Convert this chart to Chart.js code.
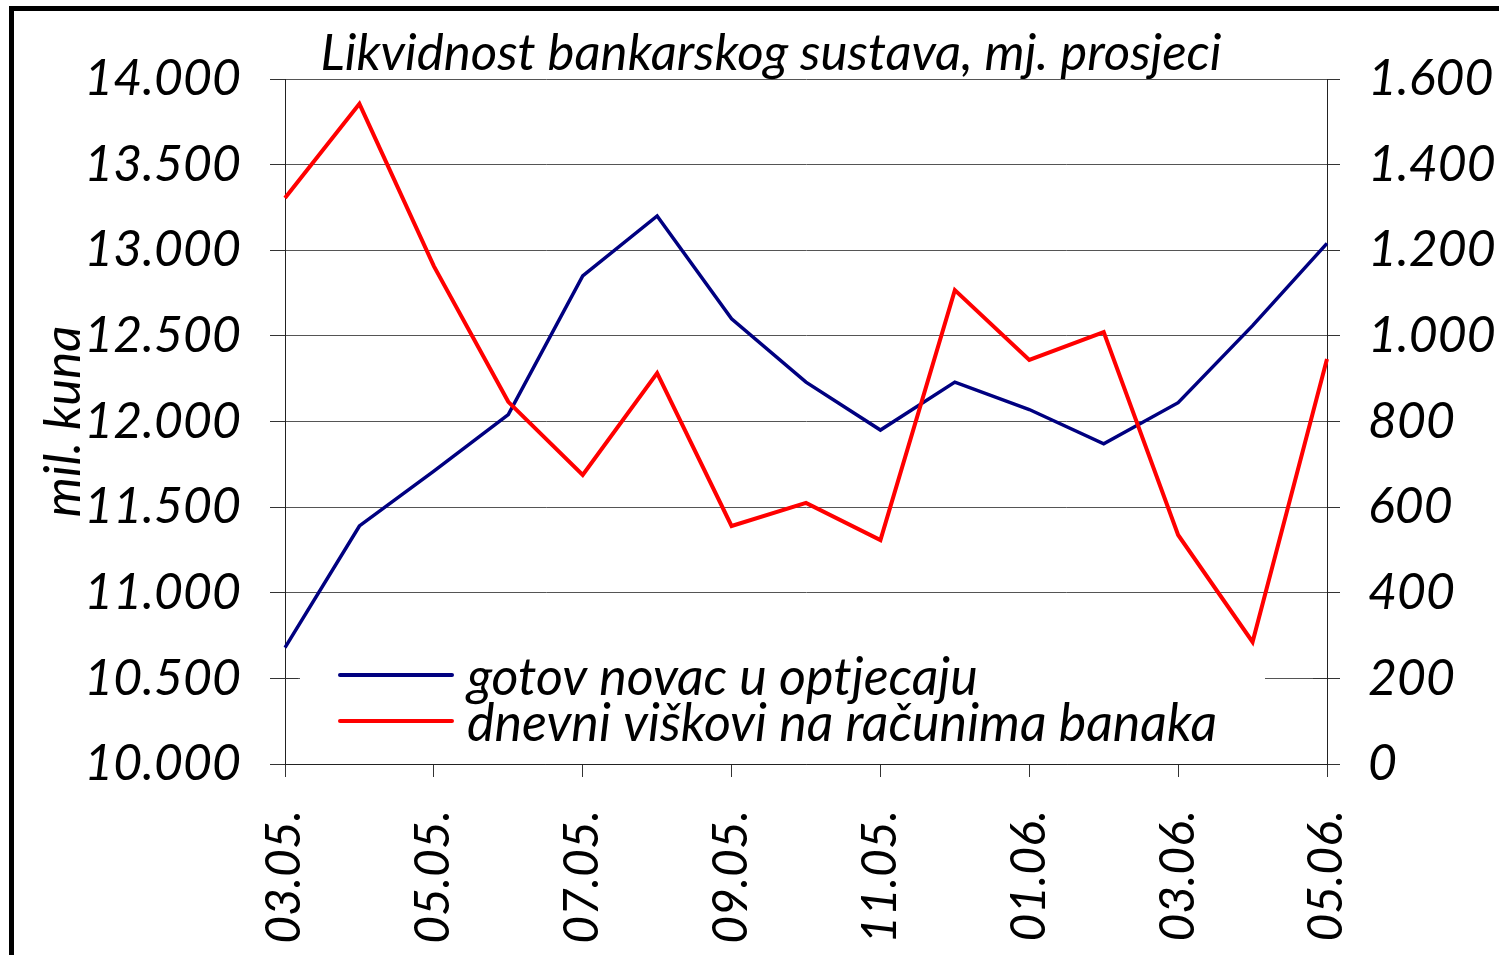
<!DOCTYPE html>
<html>
<head>
<meta charset="utf-8">
<script src="https://cdn.jsdelivr.net/npm/chart.js@4/dist/chart.umd.min.js"></script>
<style>
html,body{margin:0;padding:0;background:#fff;overflow:hidden;}
#wrap{width:1499px;height:955px;position:relative;}
</style>
</head>
<body>
<div id="wrap"><canvas id="c" width="1499" height="955"></canvas></div>
<script>
const categories = ['03.05.','04.05.','05.05.','06.05.','07.05.','08.05.','09.05.','10.05.','11.05.','12.05.','01.06.','02.06.','03.06.','04.06.','05.06.'];
const gotovNovac = [10680,11390,11710,12040,12850,13200,12600,12230,11950,12230,12070,11870,12110,12560,13040];
const dnevniViskovi = [1322,1542,1163,846,675,913,556,610,523,1107,944,1009,535,285,946];
const seriesNames = ['gotov novac u optjecaju','dnevni viškovi na računima banaka'];
const chartTitle = 'Likvidnost bankarskog sustava, mj. prosjeci';
const leftAxisTitle = 'mil. kuna';
const leftAxisRange = [10000,14000,500];
const rightAxisRange = [0,1600,200];

const FONT = 'Lato, "Open Sans", sans-serif';
function fmt(v){ return String(v).replace(/\B(?=(\d{3})+(?!\d))/g,'.'); }

const decor = {
  id:'decor',
  beforeDraw(chart){
    const ctx = chart.ctx;
    ctx.save();
    ctx.fillStyle = '#fff';
    ctx.fillRect(0,0,chart.width,chart.height);
    ctx.restore();
  },
  beforeDatasetsDraw(chart){
    const ctx = chart.ctx, a = chart.chartArea;
    const yL = chart.scales.y, yR = chart.scales.y1;
    // legend box
    const bx = a.left + 15, by = 650, bw = 965, bh = 105;
    ctx.save();
    ctx.fillStyle = '#fff';
    ctx.fillRect(bx, by, bw, bh);
    // inner cross ticks hidden by the box
    ctx.strokeStyle = '#333'; ctx.lineWidth = 1;
    yL.ticks.forEach(t=>{
      const py = Math.round(yL.getPixelForValue(t.value))+0.5;
      if (py>by && py<by+bh){
        ctx.beginPath(); ctx.moveTo(a.left,py); ctx.lineTo(a.left+13,py); ctx.stroke();
      }
    });
    yR.ticks.forEach(t=>{
      const py = Math.round(yR.getPixelForValue(t.value))+0.5;
      if (py>by && py<by+bh){
        ctx.beginPath(); ctx.moveTo(a.right-14,py); ctx.lineTo(a.right,py); ctx.stroke();
      }
    });
    // legend entries
    ctx.font = 'italic 52px ' + FONT;
    ctx.textBaseline = 'alphabetic';
    ctx.textAlign = 'left';
    chart.data.datasets.forEach((ds,i)=>{
      const ly = 675 + i*46;
      ctx.strokeStyle = ds.borderColor; ctx.lineWidth = 4; ctx.lineCap='round';
      ctx.beginPath(); ctx.moveTo(340, ly); ctx.lineTo(452, ly); ctx.stroke();
      ctx.fillStyle = '#000';
      ctx.fillText(ds.label, 467, ly + 20);
    });
    ctx.restore();
  },
  afterDraw(chart){
    const ctx = chart.ctx, a = chart.chartArea;
    ctx.save();
    // title
    ctx.fillStyle = '#000';
    ctx.font = 'italic 51px ' + FONT;
    ctx.textAlign = 'center'; ctx.textBaseline = 'alphabetic';
    ctx.fillText(chartTitle, 771, 70);
    // left axis title
    ctx.save();
    ctx.translate(80, (a.top + a.bottom)/2);
    ctx.rotate(-Math.PI/2);
    ctx.font = 'italic 51px ' + FONT;
    ctx.textAlign = 'center'; ctx.textBaseline = 'alphabetic';
    ctx.fillText(leftAxisTitle, 0, 0);
    ctx.restore();
    // frame
    ctx.strokeStyle = '#000'; ctx.lineWidth = 5;
    ctx.strokeRect(11.5, 8.5, 1700, 1200);
    ctx.restore();
  }
};

const tickFont = {family: FONT, size: 50, style: 'italic', weight: 'normal'};

new Chart(document.getElementById('c'), {
  type: 'line',
  data: {
    labels: categories,
    datasets: [
      {label: seriesNames[0], data: gotovNovac, yAxisID: 'y', borderColor: '#000080', borderWidth: 3.5, pointRadius: 0, tension: 0, fill: false, order: 1},
      {label: seriesNames[1], data: dnevniViskovi, yAxisID: 'y1', borderColor: '#ff0000', borderWidth: 4, pointRadius: 0, tension: 0, fill: false, order: 0}
    ]
  },
  options: {
    responsive: false,
    animation: false,
    devicePixelRatio: 1,
    layout: {padding: {top: 79, left: 0, right: 0, bottom: 0}},
    plugins: {legend: {display: false}, title: {display: false}, tooltip: {enabled: false}},
    scales: {
      x: {
        type: 'category',
        offset: false,
        grid: {drawOnChartArea: false, drawTicks: true, tickLength: 13, color: c => (c.index % 2 === 0 ? '#333' : 'rgba(0,0,0,0)'), lineWidth: 1},
        border: {display: true, color: '#222', width: 1},
        ticks: {autoSkip: false, maxRotation: 90, minRotation: 90, padding: 33, color: '#000', font: {family: FONT, size: 48, style: 'italic'},
          callback: (v,i) => (i % 2 === 0 ? categories[i] : '')},
        afterFit: s => { s.height = 191; }
      },
      y: {
        position: 'left',
        min: leftAxisRange[0], max: leftAxisRange[1],
        grid: {color: '#555', lineWidth: 1, tickLength: 15, tickColor: '#333'},
        border: {display: true, color: '#222', width: 1},
        ticks: {stepSize: leftAxisRange[2], padding: 29, color: '#000', font: tickFont, callback: v => fmt(v)},
        afterFit: s => { s.width = 285; }
      },
      y1: {
        position: 'right',
        min: rightAxisRange[0], max: rightAxisRange[1],
        grid: {drawOnChartArea: false, tickLength: 13, color: '#333'},
        border: {display: true, color: '#222', width: 1},
        ticks: {stepSize: rightAxisRange[2], padding: 28, color: '#000', font: tickFont, callback: v => fmt(v)},
        afterFit: s => { s.width = 172; }
      }
    }
  },
  plugins: [decor]
});
</script>
</body>
</html>
